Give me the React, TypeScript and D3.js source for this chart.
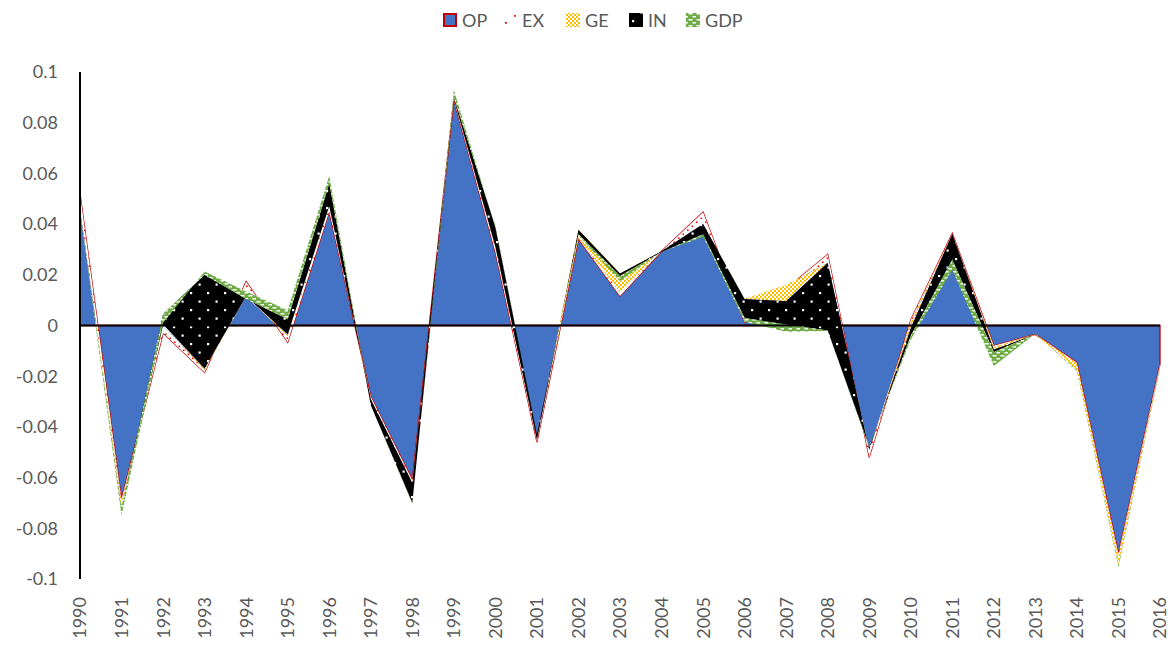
import React from 'react';
import * as d3 from 'd3';

const years = ['1990','1991','1992','1993','1994','1995','1996','1997','1998','1999','2000','2001','2002','2003','2004','2005','2006','2007','2008','2009','2010','2011','2012','2013','2014','2015','2016'];

const OP = [0.052,-0.0686,-0.003,-0.0185,0.0173,-0.0066,0.045,-0.028,-0.061,0.089,0.029,-0.046,0.0342,0.0116,0.0293,0.0447,0.0012,0.0145,0.028,-0.052,0.0022,0.0363,-0.008,-0.0035,-0.0147,-0.09,-0.0153];
const EX = [-0.006,-0.0014,0.003,0.001,-0.0058,0.0026,0.002,-0.001,-0.001,0.0005,0.002,0.001,0.0003,0.0014,0,-0.0047,0.0093,0.0015,-0.0033,0.003,-0.0012,-0.0003,-0.0005,0,-0.0003,-0.001,-0.0007];
const GE = [0,-0.002,0.0005,0.0005,0,0.0005,0,0,0,0,0,0,0.0033,0.0075,0,0,0,-0.0064,0,0,-0.002,0,-0.001,0,-0.0025,-0.0035,-0.0005];
const IN = [0,0,0.004,0.037,-0.001,0.006,0.009,-0.0025,-0.008,0.0005,0.008,0.002,-0.0018,-0.001,-0.0003,-0.004,-0.0075,-0.0092,-0.0267,0.001,-0.003,-0.01,-0.001,0,0,0,0];
const GDP = [-0.001,-0.003,-0.0035,0.0013,0.0029,0.0035,0.003,0,-0.0003,0.003,-0.0005,0,-0.0005,-0.002,0,-0.001,-0.0015,-0.0029,-0.0002,0.0005,-0.0015,-0.004,-0.0055,0.0003,-0.0005,-0.001,-0.0005];

const seriesKeys = ['OP','EX','GE','IN','GDP'];
const yTicks = [0.1,0.08,0.06,0.04,0.02,0,-0.02,-0.04,-0.06,-0.08,-0.1];

const W = 1175, H = 649;
const FONT = "Lato, 'Open Sans', sans-serif";
const TXT = '#595959';

const fills: Record<string,string> = { OP: '#4472C4', EX: 'url(#pEX)', GE: 'url(#pGE)', IN: 'url(#pIN)', GDP: 'url(#pGDP)' };

export default function App() {
  const table = years.map((yr, i) => ({ year: yr, OP: OP[i], EX: EX[i], GE: GE[i], IN: IN[i], GDP: GDP[i] }));
  const stack = d3.stack<any>().keys(seriesKeys).order(d3.stackOrderNone).offset(d3.stackOffsetNone);
  const layers = stack(table);

  const x = d3.scalePoint<string>().domain(years).range([80, 1160]);
  const y = d3.scaleLinear().domain([-0.1, 0.1]).range([579, 72]);

  const area = d3.area<any>()
    .x((d: any) => x(d.data.year) as number)
    .y0((d: any) => y(d[0]))
    .y1((d: any) => y(d[1]));

  const fmt = (v: number) => (v === 0 ? '0' : String(+v.toFixed(2)));

  const legendX = [443, 503, 566, 629, 686];

  return (
    <svg width={W} height={H} style={{ position: 'absolute', left: 0, top: 0, background: '#fff' }} fontFamily={FONT}>
      <defs>
        <pattern id="pEX" width={9} height={8} patternUnits="userSpaceOnUse">
          <rect width={9} height={8} fill="#fff" />
          <rect x={3} y={5.5} width={1.6} height={1.6} fill="#FF0000" />
          <rect x={7.5} y={1.5} width={1.6} height={1.6} fill="#FF0000" />
        </pattern>
        <pattern id="pGE" width={4} height={4} patternUnits="userSpaceOnUse">
          <rect width={4} height={4} fill="#fff" />
          <rect x={0} y={0} width={2} height={2} fill="#FFC000" />
          <rect x={2} y={2} width={2} height={2} fill="#FFC000" />
        </pattern>
        <pattern id="pIN" width={17} height={17} patternUnits="userSpaceOnUse">
          <rect width={17} height={17} fill="#000" />
          <rect x={3} y={3} width={2.2} height={2.2} fill="#fff" />
          <rect x={11.5} y={11.5} width={2.2} height={2.2} fill="#fff" />
        </pattern>
        <pattern id="pGDP" width={8} height={6} patternUnits="userSpaceOnUse">
          <rect width={8} height={6} fill="#70AD47" />
          <rect x={0.5} y={1} width={4} height={1.5} fill="#fff" />
          <rect x={4.5} y={4} width={3.5} height={1.5} fill="#fff" />
        </pattern>
      </defs>

      {layers.map((layer: any) => (
        <path
          key={layer.key}
          d={area(layer) as string}
          fill={fills[layer.key]}
          stroke={layer.key === 'OP' ? '#C00000' : 'none'}
          strokeWidth={layer.key === 'OP' ? 1.3 : 0}
          strokeLinejoin="miter"
        />
      ))}

      {/* axes */}
      <line x1={x(years[0])} x2={x(years[years.length - 1])} y1={y(0)} y2={y(0)} stroke="#000" strokeWidth={2.2} />
      <line x1={80} x2={80} y1={y(0.1)} y2={y(-0.1)} stroke="#000" strokeWidth={2} />

      {yTicks.map((t) => (
        <text key={t} x={58} y={y(t)} dy="0.35em" textAnchor="end" fontSize={18} fill={TXT}>{fmt(t)}</text>
      ))}

      {years.map((yr) => (
        <text key={yr} transform={`translate(${x(yr)},597) rotate(-90)`} textAnchor="end" dy="0.36em" fontSize={18} fill={TXT}>{yr}</text>
      ))}

      {/* legend */}
      {seriesKeys.map((k, i) => {
        const lx = legendX[i];
        let sw: any = null;
        if (k === 'OP') sw = <rect x={lx + 1} y={14} width={12} height={12} fill="#4472C4" stroke="#C00000" strokeWidth={2} />;
        else if (k === 'EX') sw = <g><rect x={lx + 2} y={22} width={1.8} height={1.8} fill="#FF0000" /><rect x={lx + 11} y={15} width={1.8} height={1.8} fill="#FF0000" /></g>;
        else sw = <rect x={lx} y={13} width={14} height={14} fill={fills[k]} />;
        return (
          <g key={k}>
            {sw}
            <text x={lx + 19} y={27} fontSize={18} fill={TXT}>{k}</text>
          </g>
        );
      })}
    </svg>
  );
}
